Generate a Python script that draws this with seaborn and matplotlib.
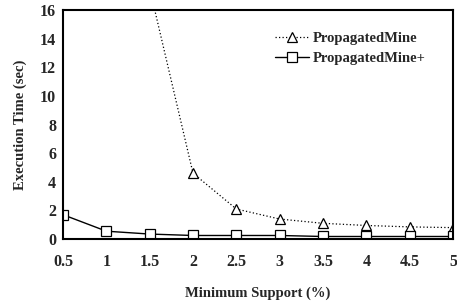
import matplotlib
matplotlib.use("Agg")
import matplotlib.pyplot as plt
import seaborn as sns
import pandas as pd
import numpy as np

support = [0.5, 1, 1.5, 2, 2.5, 3, 3.5, 4, 4.5, 5]
mine = [np.nan, np.nan, 17.5, 4.6, 2.1, 1.4, 1.1, 0.95, 0.85, 0.8]
mine_plus = [1.7, 0.55, 0.35, 0.25, 0.25, 0.25, 0.18, 0.18, 0.18, 0.18]
xticks = [0.5, 1, 1.5, 2, 2.5, 3, 3.5, 4, 4.5, 5]
xticklabels = ["0.5", "1", "1.5", "2", "2.5", "3", "3.5", "4", "4.5", "5"]
yticks = [0, 2, 4, 6, 8, 10, 12, 14, 16]

sns.set_theme(style="white")
plt.rcParams['font.family'] = ['Liberation Serif', 'DejaVu Serif']
plt.rcParams['font.weight'] = 'bold'

fig = plt.figure(figsize=(4.57, 3.03), dpi=100)
ax = fig.add_axes([0.138, 0.211, 0.853, 0.756])

df1 = pd.DataFrame({"x": support, "y": mine}).dropna()
df2 = pd.DataFrame({"x": support, "y": mine_plus})

sns.lineplot(data=df1, x="x", y="y", ax=ax, color="black", linestyle=(0, (1, 1.8)),
             linewidth=0.9, marker="^", markersize=7, markerfacecolor="white",
             markeredgecolor="black", markeredgewidth=0.9, label="PropagatedMine")
sns.lineplot(data=df2, x="x", y="y", ax=ax, color="black", linestyle="-",
             linewidth=1.0, marker="s", markersize=7, markerfacecolor="white",
             markeredgecolor="black", markeredgewidth=0.9, label="PropagatedMine+")

ax.set_xlim(0.5, 5)
ax.set_ylim(0, 16)
ax.set_xticks(xticks)
ax.set_xticklabels(xticklabels)
ax.set_yticks(yticks)
ax.tick_params(axis="both", labelsize=11.5, direction="in", length=3, width=0.8,
               color="black", pad=11)
ax.tick_params(axis="y", pad=5)
for lab in ax.get_xticklabels() + ax.get_yticklabels():
    lab.set_fontweight("bold")
for s in ax.spines.values():
    s.set_color("black")
    s.set_linewidth(1.5)

ax.set_xlabel("Minimum Support (%)", fontsize=10.5, fontweight="bold", labelpad=12)
ax.set_ylabel("Execution Time (sec)", fontsize=10.5, fontweight="bold", labelpad=9)

leg = ax.legend(loc="upper left", bbox_to_anchor=(0.51, 0.96), frameon=False,
                handlelength=2.3, handletextpad=0.3,
                labelspacing=0.45, prop={"weight": "bold", "size": 10.5})

fig.savefig("out.png", dpi=100)
